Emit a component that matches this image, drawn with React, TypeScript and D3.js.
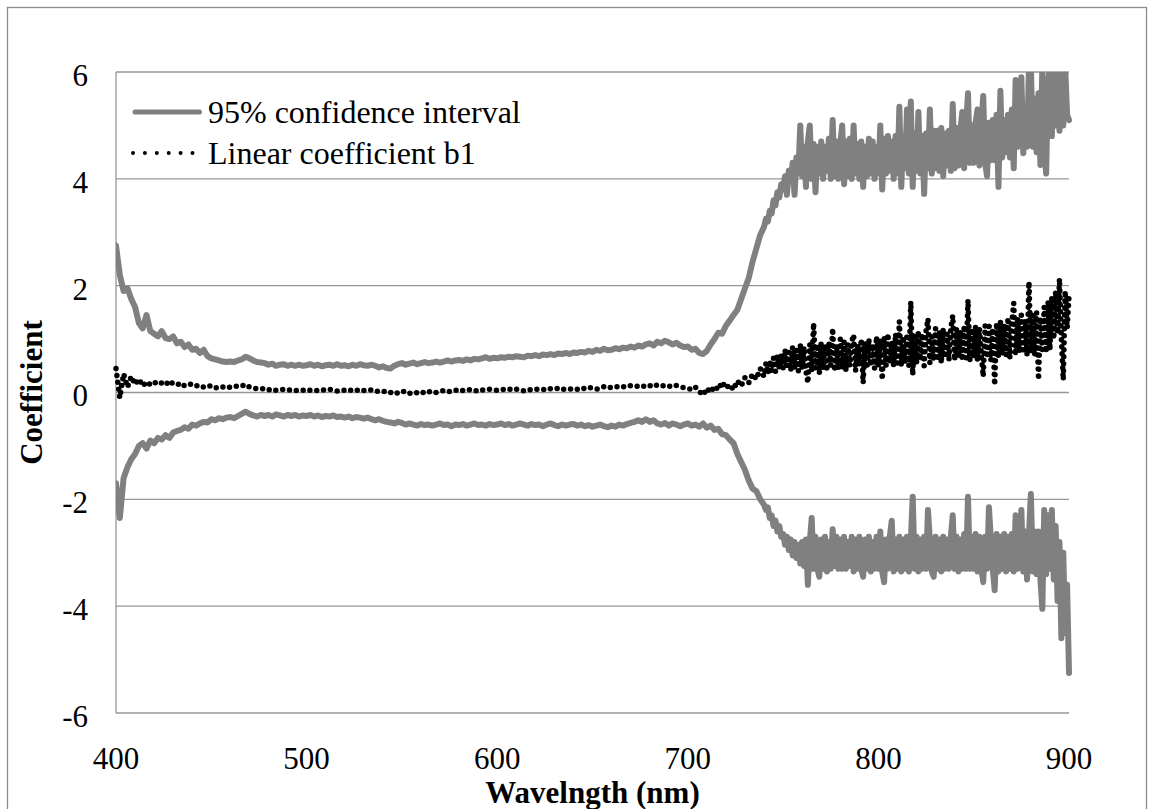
import React from 'react';
import * as d3 from 'd3';

// Wavelength grid (nm): 2 nm sampling in the visible part, 1 nm in the noisy NIR part
const WAVELENGTHS: number[] = [...d3.range(400, 740, 2), ...d3.range(740, 901, 1)];

// Upper 95% confidence bound (400-738 every 2 nm, then 740-900 every 1 nm)
const UPPER_CI: number[] = [
  2.75, 2.2, 1.9, 1.95, 1.75, 1.6, 1.3, 1.2, 1.45, 1.15,
  1.1, 1.05, 1.15, 1.02, 1.0, 1.05, 0.92, 0.95, 0.85, 0.9,
  0.8, 0.82, 0.74, 0.8, 0.68, 0.64, 0.62, 0.6, 0.58, 0.57,
  0.58, 0.57, 0.6, 0.62, 0.67, 0.64, 0.6, 0.57, 0.56, 0.55,
  0.52, 0.54, 0.5, 0.52, 0.53, 0.5, 0.52, 0.5, 0.52, 0.5,
  0.51, 0.53, 0.5, 0.52, 0.49, 0.51, 0.52, 0.5, 0.53, 0.5,
  0.51, 0.49, 0.52, 0.5, 0.53, 0.51, 0.5, 0.52, 0.5, 0.47,
  0.49, 0.46, 0.45, 0.5, 0.53, 0.55, 0.52, 0.54, 0.56, 0.53,
  0.55, 0.57, 0.55, 0.56, 0.58, 0.56, 0.58, 0.6, 0.58, 0.6,
  0.61, 0.59, 0.62, 0.6, 0.63, 0.62, 0.64, 0.66, 0.63, 0.65,
  0.64, 0.66, 0.65, 0.67, 0.66, 0.68, 0.67, 0.66, 0.69, 0.68,
  0.7, 0.68, 0.71, 0.7, 0.72, 0.7, 0.73, 0.72, 0.74, 0.72,
  0.75, 0.74, 0.76, 0.75, 0.78, 0.76, 0.8, 0.78, 0.82, 0.79,
  0.8, 0.83, 0.81, 0.84, 0.83, 0.86, 0.84, 0.88, 0.86, 0.9,
  0.92, 0.88, 0.95, 0.92, 0.97, 0.94, 0.9, 0.93, 0.88, 0.85,
  0.86, 0.8, 0.82, 0.74, 0.72, 0.78, 0.9, 1.0, 1.12, 1.1,
  1.25, 1.35, 1.45, 1.55, 1.75, 1.95, 2.15, 2.45, 2.7, 2.95,
  // 740-900, 1 nm
  3.1, 3.25, 3.2, 3.4, 3.35, 3.6, 3.5, 3.75, 3.65, 3.9,
  3.8, 4.05, 3.7, 4.15, 3.95, 4.3, 3.7, 4.4, 4.1, 5.0,
  4.05, 4.6, 3.85, 4.7, 5.0, 4.0, 4.65, 3.75, 4.6, 4.1,
  4.7, 4.0, 4.6, 4.15, 4.75, 4.0, 5.1, 4.05, 4.7, 4.0,
  4.65, 5.0, 3.9, 4.7, 4.05, 4.75, 4.0, 5.0, 4.1, 4.65,
  4.0, 4.7, 3.85, 4.6, 4.05, 4.75, 4.1, 4.7, 4.0, 4.6,
  4.1, 5.0, 3.8, 4.75, 4.1, 4.8, 4.15, 4.7, 4.0, 4.8,
  4.1, 5.35, 3.85, 4.8, 4.2, 5.3, 4.1, 5.45, 3.85, 4.85,
  4.15, 5.25, 4.1, 4.8, 3.72, 4.85, 4.2, 5.3, 4.1, 4.9,
  4.2, 4.9, 4.15, 4.95, 4.05, 4.85, 4.25, 4.9, 4.15, 5.4,
  4.2, 4.95, 4.25, 4.9, 5.25, 4.2, 5.0, 5.6, 4.3, 5.0,
  4.3, 5.05, 5.3, 4.25, 5.0, 5.55, 4.3, 4.05, 5.05, 4.35,
  5.1, 4.35, 5.2, 3.85, 5.65, 4.4, 5.1, 4.5, 5.2, 4.4,
  5.3, 4.2, 5.85, 4.6, 5.3, 5.9, 4.48, 5.2, 4.6, 6.1,
  6.1, 4.6, 5.5, 4.5, 5.6, 4.26, 6.1, 4.7, 4.1, 5.8,
  6.1, 4.8, 6.1, 5.0, 6.1, 4.9, 6.1, 5.0, 6.1, 5.2,
  5.1,
];

// Lower 95% confidence bound
const LOWER_CI: number[] = [
  -1.7, -2.35, -1.6, -1.4, -1.25, -1.15, -1.0, -0.95, -1.05, -0.9,
  -0.95, -0.85, -0.88, -0.8, -0.85, -0.75, -0.72, -0.7, -0.65, -0.68,
  -0.6, -0.62, -0.58, -0.55, -0.56, -0.5, -0.52, -0.48, -0.5, -0.47,
  -0.46, -0.48, -0.44, -0.4, -0.36, -0.4, -0.43, -0.45, -0.42, -0.44,
  -0.42, -0.45, -0.41, -0.43, -0.45, -0.42, -0.44, -0.42, -0.45, -0.43,
  -0.44, -0.42, -0.45, -0.43, -0.46, -0.44, -0.45, -0.43, -0.46, -0.45,
  -0.47, -0.45, -0.48, -0.46, -0.47, -0.49, -0.47, -0.5, -0.52, -0.5,
  -0.53, -0.55, -0.56, -0.58, -0.55, -0.57, -0.6, -0.58, -0.6, -0.62,
  -0.59, -0.61, -0.6, -0.62, -0.6, -0.58, -0.61, -0.6, -0.63, -0.6,
  -0.61, -0.59, -0.62, -0.6, -0.58, -0.61, -0.6, -0.62, -0.59, -0.61,
  -0.6, -0.58, -0.61, -0.59, -0.62, -0.6, -0.58, -0.6, -0.62, -0.59,
  -0.61, -0.6, -0.63, -0.6, -0.58, -0.61, -0.63, -0.6, -0.62, -0.6,
  -0.59, -0.62, -0.6, -0.63, -0.61, -0.64, -0.62, -0.6, -0.63, -0.65,
  -0.62, -0.64, -0.6, -0.62, -0.59, -0.57, -0.55, -0.52, -0.55, -0.5,
  -0.55, -0.52, -0.58, -0.6, -0.57, -0.62, -0.58, -0.6, -0.63, -0.6,
  -0.58, -0.62, -0.6, -0.64, -0.58, -0.66, -0.62, -0.7, -0.68, -0.78,
  -0.8, -0.88, -0.95, -1.15, -1.3, -1.45, -1.65, -1.8, -1.85, -2.0,
  // 740-900, 1 nm
  -2.1, -2.2, -2.15, -2.35, -2.3, -2.5, -2.4, -2.6, -2.5, -2.7,
  -2.65, -2.85, -2.7, -2.95, -2.75, -3.05, -2.8, -3.1, -2.85, -3.2,
  -2.8, -3.25, -2.75, -3.6, -2.8, -2.35, -3.3, -2.7, -3.3, -3.45,
  -2.75, -3.3, -2.7, -3.35, -2.8, -3.3, -2.56, -3.25, -2.7, -3.3,
  -2.75, -3.3, -2.7, -3.3, -2.8, -3.25, -2.7, -3.35, -2.75, -3.3,
  -2.7, -3.3, -3.45, -2.75, -3.3, -2.7, -3.35, -2.8, -3.3, -2.7,
  -3.3, -2.6, -3.35, -3.55, -2.75, -3.3, -2.7, -2.4, -3.35, -2.75,
  -3.3, -2.7, -3.35, -2.75, -3.3, -2.7, -3.35, -2.8, -1.95, -3.3,
  -2.7, -3.35, -2.75, -3.3, -2.7, -3.3, -2.2, -2.75, -3.35, -3.45,
  -2.7, -3.3, -2.75, -3.35, -2.7, -3.3, -2.75, -3.3, -2.7, -2.3,
  -3.3, -2.7, -3.35, -2.75, -3.3, -2.65, -3.3, -1.95, -3.3, -2.7,
  -3.3, -2.65, -3.35, -2.7, -3.3, -3.55, -2.7, -3.3, -2.15, -2.75,
  -3.3, -3.7, -2.65, -3.35, -2.7, -3.3, -2.65, -3.35, -2.7, -3.3,
  -2.65, -3.35, -2.3, -3.3, -2.7, -2.2, -3.35, -2.6, -3.5, -2.65,
  -1.9, -3.35, -2.6, -3.4, -2.6, -3.5, -4.05, -2.2, -3.4, -2.3,
  -3.3, -2.2, -3.5, -2.5, -3.9, -2.8, -4.6, -3.0, -4.5, -3.6,
  -5.25,
];

// Linear coefficient b1
const B1: number[] = [
  0.45, -0.1, 0.35, 0.1, 0.3, 0.15, 0.25, 0.12, 0.2, 0.15,
  0.2, 0.15, 0.18, 0.14, 0.22, 0.16, 0.14, 0.18, 0.12, 0.15,
  0.16, 0.12, 0.14, 0.1, 0.13, 0.12, 0.08, 0.11, 0.1, 0.12,
  0.09, 0.1, 0.13, 0.12, 0.15, 0.1, 0.08, 0.07, 0.06, 0.08,
  0.05, 0.07, 0.04, 0.05, 0.06, 0.04, 0.05, 0.03, 0.05, 0.04,
  0.06, 0.04, 0.05, 0.03, 0.05, 0.04, 0.06, 0.05, 0.03, 0.05,
  0.04, 0.06, 0.03, 0.05, 0.02, 0.04, 0.03, 0.05, 0.02, 0.03,
  0.01, 0.03, 0.0, 0.02, -0.02, 0.01, 0.03, -0.01, -0.03, 0.0,
  0.02, -0.02, 0.01, 0.03, 0.0, 0.02, 0.04, 0.01, 0.03, 0.05,
  0.02, 0.04, 0.03, 0.06, 0.04, 0.02, 0.05, 0.04, 0.06, 0.05,
  0.04, 0.06, 0.05, 0.07, 0.04, 0.06, 0.05, 0.03, 0.06, 0.05,
  0.07, 0.05, 0.06, 0.04, 0.07, 0.06, 0.08, 0.05, 0.07, 0.06,
  0.08, 0.06, 0.09, 0.07, 0.1, 0.08, 0.06, 0.09, 0.11, 0.08,
  0.1, 0.12, 0.09, 0.11, 0.1, 0.13, 0.11, 0.12, 0.1, 0.14,
  0.12, 0.16, 0.13, 0.11, 0.14, 0.12, 0.1, 0.13, 0.11, 0.09,
  0.08, 0.05, 0.1, 0.02, -0.05, 0.08, 0.0, 0.12, 0.05, 0.2,
  0.08, 0.15, 0.05, 0.22, 0.12, 0.28, 0.18, 0.35, 0.25, 0.45,
  // 740-900, 1 nm
  0.3, 0.55, 0.35, 0.6, 0.4, 0.65, 0.4, 0.7, 0.45, 0.7,
  0.45, 0.8, 0.5, 0.75, 0.4, 0.85, 0.45, 0.8, 0.4, 0.9,
  0.45, 0.85, 0.4, 0.18, 0.9, 0.4, 1.3, 0.45, 0.9, 0.35,
  0.95, 0.45, 0.9, 0.4, 0.95, 0.5, 1.2, 0.4, 0.9, 0.45,
  1.0, 0.45, 0.95, 0.4, 0.9, 0.5, 0.95, 1.08, 0.4, 0.9,
  0.5, 1.0, 0.18, 0.95, 0.45, 1.0, 0.5, 0.9, 0.45, 1.05,
  0.5, 1.0, 0.24, 1.05, 0.5, 1.1, 0.55, 0.95, 0.5, 1.1,
  0.55, 1.33, 0.5, 1.05, 0.55, 1.1, 0.5, 1.7, 0.33, 1.1,
  0.55, 1.15, 0.6, 1.1, 0.5, 1.15, 1.38, 0.55, 1.05, 0.6,
  1.2, 0.6, 1.15, 0.55, 1.2, 0.65, 1.1, 0.6, 1.2, 1.44,
  0.6, 1.2, 0.65, 1.15, 0.6, 1.25, 0.65, 1.73, 0.6, 1.2,
  0.65, 1.25, 0.6, 1.2, 0.7, 0.3, 1.25, 0.65, 1.3, 0.6,
  1.2, 0.14, 1.3, 0.65, 1.35, 0.7, 1.25, 0.7, 1.4, 0.65,
  1.3, 1.67, 0.7, 1.4, 0.75, 1.45, 0.8, 1.35, 0.7, 2.07,
  0.75, 1.45, 0.7, 1.5, 0.24, 1.4, 0.8, 1.6, 0.75, 1.7,
  0.8, 1.8, 1.0, 1.9, 1.1, 2.13, 1.0, 0.24, 1.9, 1.2,
  1.8,
];

const Y_TICKS: number[] = [-6, -4, -2, 0, 2, 4, 6];
const X_TICKS: number[] = [400, 500, 600, 700, 800, 900];

const LEGEND_LABELS: string[] = ['95% confidence interval', 'Linear coefficient b1'];
const X_TITLE = 'Wavelngth (nm)';
const Y_TITLE = 'Coefficient';

const FONT = "'Liberation Serif', 'Times New Roman', Times, serif";

export default function App() {
  const W = 1154;
  const H = 809;
  const x = d3.scaleLinear().domain([400, 900]).range([116, 1069]);
  const y = d3.scaleLinear().domain([-6, 6]).range([713, 72]);

  const line = d3
    .line<number>()
    .x((_, i) => x(WAVELENGTHS[i]))
    .y((d) => y(d));

  const gridColor = '#979797';
  const ciColor = '#808080';

  return (
    <svg
      width={W}
      height={H}
      style={{ position: 'absolute', left: 0, top: 0, background: '#fff' }}
      fontFamily={FONT}
    >
      <defs>
        <clipPath id="plotClip">
          <rect x={x(400)} y={y(6)} width={W - x(400)} height={H - y(6)} />
        </clipPath>
      </defs>
      <rect x={0} y={0} width={W} height={H} fill="#fff" />
      {/* outer chart border */}
      <rect x={7.5} y={7.5} width={1139} height={830} fill="none" stroke="#8c8c8c" strokeWidth={1.3} />

      {/* gridlines */}
      {Y_TICKS.map((t) => (
        <line
          key={'g' + t}
          x1={x(400)}
          x2={x(900)}
          y1={y(t)}
          y2={y(t)}
          stroke={gridColor}
          strokeWidth={1.3}
        />
      ))}
      {/* left axis */}
      <line x1={x(400)} x2={x(400)} y1={y(6)} y2={y(-6)} stroke={gridColor} strokeWidth={1.3} />

      {/* series */}
      <g clipPath="url(#plotClip)">
        <path
          d={line(UPPER_CI) || ''}
          fill="none"
          stroke={ciColor}
          strokeWidth={6}
          strokeLinejoin="round"
          strokeLinecap="round"
        />
        <path
          d={line(LOWER_CI) || ''}
          fill="none"
          stroke={ciColor}
          strokeWidth={6}
          strokeLinejoin="round"
          strokeLinecap="round"
        />
      </g>
      <path
        d={line(B1) || ''}
        fill="none"
        stroke="#000"
        strokeWidth={5.5}
        strokeDasharray="0 7"
        strokeLinecap="round"
        strokeLinejoin="round"
      />

      {/* y tick labels */}
      {Y_TICKS.map((t) => (
        <text key={'yl' + t} x={88} y={y(t) + 3} dy="0.35em" textAnchor="end" fontSize={31} fill="#000">
          {String(t)}
        </text>
      ))}
      {/* x tick labels */}
      {X_TICKS.map((t) => (
        <text key={'xl' + t} x={x(t)} y={769} textAnchor="middle" fontSize={31} fill="#000">
          {String(t)}
        </text>
      ))}

      {/* axis titles */}
      <text x={(x(400) + x(900)) / 2} y={803} textAnchor="middle" fontSize={31} fontWeight="bold" fill="#000">
        {X_TITLE}
      </text>
      <text
        transform={`translate(42, ${y(0)}) rotate(-90)`}
        textAnchor="middle"
        fontSize={31}
        fontWeight="bold"
        fill="#000"
      >
        {Y_TITLE}
      </text>

      {/* legend */}
      <line x1={135} x2={199.5} y1={112} y2={112} stroke={ciColor} strokeWidth={5} strokeLinecap="round" />
      <text x={208} y={123} fontSize={32} fill="#000">
        {LEGEND_LABELS[0]}
      </text>
      <line
        x1={133}
        x2={193}
        y1={153}
        y2={153}
        stroke="#000"
        strokeWidth={4}
        strokeDasharray="0 11.9"
        strokeLinecap="round"
      />
      <text x={208} y={164} fontSize={32} fill="#000">
        {LEGEND_LABELS[1]}
      </text>
    </svg>
  );
}
